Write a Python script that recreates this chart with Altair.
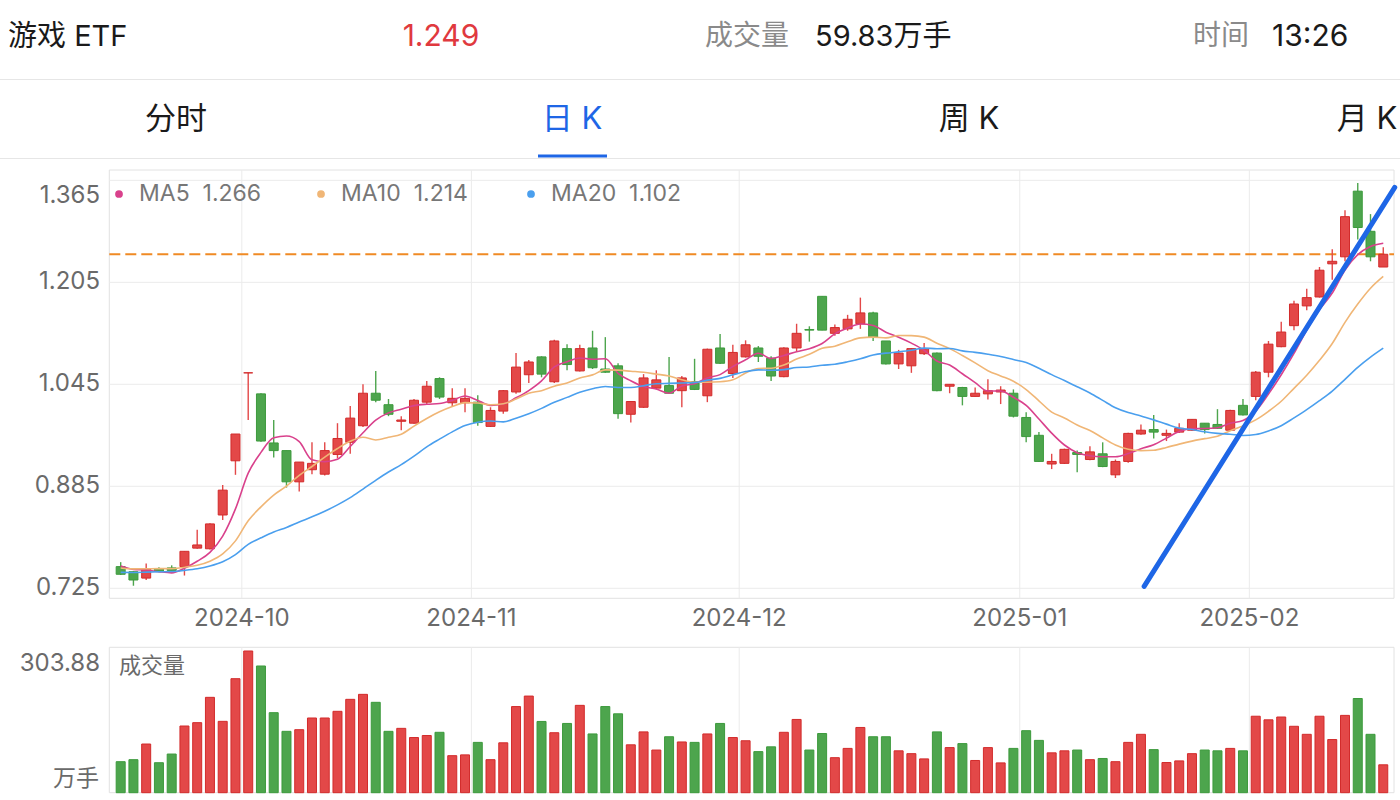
import altair as alt
import pandas as pd
import numpy as np

# ---------------- data ----------------
opens = [0.759, 0.751, 0.741, 0.756, 0.757, 0.759, 0.788, 0.787, 0.840, 0.925,
         1.063, 1.030, 0.953, 0.941, 0.892, 0.911, 0.904, 0.935, 0.954, 0.980,
         1.031, 1.013, 0.987, 0.984, 1.017, 1.054, 1.016, 1.016, 1.017, 0.979,
         1.003, 1.033, 1.060, 1.088, 1.049, 1.101, 1.066, 1.102, 1.069, 1.074,
         0.998, 1.009, 1.039, 1.043, 1.035, 1.049, 1.027, 1.102, 1.062, 1.088,
         1.102, 1.086, 1.057, 1.102, 1.131, 1.183, 1.125, 1.132, 1.140, 1.157,
         1.113, 1.077, 1.074, 1.093, 1.094, 1.042, 1.040, 1.026, 1.030, 1.033,
         1.031, 0.993, 0.965, 0.920, 0.921, 0.938, 0.927, 0.936, 0.903, 0.924,
         0.967, 0.974, 0.965, 0.970, 0.973, 0.984, 0.982, 0.973, 1.012, 1.026,
         1.064, 1.104, 1.137, 1.168, 1.182, 1.234, 1.245, 1.348, 1.285, 1.229]
highs = [0.766, 0.752, 0.764, 0.758, 0.761, 0.783, 0.817, 0.827, 0.887, 0.967,
         1.063, 1.031, 0.989, 0.941, 0.923, 0.954, 0.954, 0.984, 1.011, 1.045,
         1.066, 1.022, 0.995, 1.022, 1.050, 1.056, 1.039, 1.039, 1.028, 1.009,
         1.036, 1.094, 1.083, 1.089, 1.115, 1.108, 1.107, 1.129, 1.119, 1.078,
         1.019, 1.061, 1.067, 1.088, 1.058, 1.085, 1.101, 1.124, 1.107, 1.114,
         1.105, 1.089, 1.103, 1.140, 1.136, 1.183, 1.139, 1.154, 1.181, 1.159,
         1.113, 1.099, 1.102, 1.110, 1.095, 1.045, 1.041, 1.040, 1.053, 1.042,
         1.037, 1.001, 0.970, 0.936, 0.944, 0.941, 0.948, 0.954, 0.927, 0.969,
         0.982, 0.997, 0.974, 0.984, 0.990, 0.984, 1.006, 1.005, 1.022, 1.066,
         1.113, 1.143, 1.176, 1.195, 1.229, 1.257, 1.318, 1.361, 1.312, 1.260]
lows = [0.746, 0.729, 0.738, 0.750, 0.752, 0.745, 0.787, 0.786, 0.832, 0.903,
        0.989, 0.955, 0.930, 0.883, 0.877, 0.904, 0.902, 0.929, 0.936, 0.978,
        1.017, 0.995, 0.973, 0.983, 1.013, 1.022, 1.011, 1.001, 0.980, 0.978,
        0.999, 1.030, 1.047, 1.056, 1.047, 1.067, 1.065, 1.069, 1.063, 0.991,
        0.985, 1.008, 1.037, 1.030, 1.009, 1.036, 1.017, 1.077, 1.055, 1.087,
        1.080, 1.050, 1.056, 1.096, 1.112, 1.130, 1.121, 1.129, 1.132, 1.113,
        1.076, 1.069, 1.063, 1.091, 1.034, 1.031, 1.012, 1.026, 1.021, 1.014,
        0.993, 0.954, 0.923, 0.912, 0.920, 0.907, 0.926, 0.915, 0.898, 0.922,
        0.966, 0.960, 0.956, 0.969, 0.972, 0.968, 0.975, 0.972, 0.996, 1.020,
        1.056, 1.103, 1.130, 1.161, 1.181, 1.209, 1.238, 1.272, 1.238, 1.229]
closes = [0.747, 0.738, 0.756, 0.752, 0.753, 0.783, 0.793, 0.826, 0.879, 0.967,
          1.063, 0.956, 0.941, 0.892, 0.923, 0.921, 0.941, 0.960, 0.992, 1.031,
          1.020, 0.998, 0.989, 1.020, 1.042, 1.025, 1.023, 1.023, 0.985, 1.004,
          1.035, 1.072, 1.080, 1.061, 1.113, 1.076, 1.101, 1.071, 1.064, 0.999,
          1.018, 1.055, 1.052, 1.031, 1.055, 1.037, 1.100, 1.078, 1.095, 1.107,
          1.089, 1.058, 1.102, 1.125, 1.130, 1.130, 1.134, 1.147, 1.157, 1.119,
          1.077, 1.094, 1.101, 1.101, 1.035, 1.045, 1.026, 1.031, 1.035, 1.036,
          0.995, 0.963, 0.924, 0.924, 0.943, 0.935, 0.939, 0.916, 0.924, 0.968,
          0.973, 0.970, 0.968, 0.976, 0.990, 0.974, 0.976, 1.004, 0.997, 1.064,
          1.108, 1.127, 1.171, 1.181, 1.224, 1.238, 1.308, 1.291, 1.245, 1.249]
volumes = [66.5, 70.8, 104.4, 64.3, 82.9, 143.0, 150.2, 204.5, 153.0, 244.5,
           303.88, 271.7, 171.6, 131.6, 135.1, 160.2, 160.2, 174.5, 200.2, 210.9,
           193.8, 131.6, 138.0, 118.3, 122.6, 129.5, 79.4, 81.1, 107.9, 70.8,
           107.0, 184.7, 207.2, 152.8, 128.6, 148.5, 187.3, 126.0, 184.7, 169.2,
           102.7, 130.4, 91.5, 120.0, 108.8, 107.9, 126.0, 148.5, 118.3, 111.4,
           88.1, 98.4, 129.5, 157.1, 91.5, 126.9, 75.1, 95.0, 139.9, 120.0,
           120.0, 89.8, 83.7, 72.5, 130.4, 96.7, 105.3, 69.1, 96.7, 63.9,
           95.0, 133.0, 112.2, 85.5, 89.8, 91.5, 70.8, 73.4, 66.5, 107.9,
           125.2, 92.4, 64.7, 68.2, 83.7, 91.5, 89.8, 95.0, 89.8, 164.0,
           156.3, 162.3, 142.4, 125.2, 164.0, 114.0, 165.8, 202.0, 125.2, 59.83]
# closes before the visible window (estimated so the MA lines start where drawn)
prior_closes = [0.742, 0.745, 0.740, 0.744, 0.748, 0.743, 0.741, 0.745, 0.742, 0.740,
                0.752, 0.755, 0.750, 0.753, 0.760, 0.764, 0.761, 0.765, 0.762]

price_ticks = [0.725, 0.885, 1.045, 1.205, 1.365]
month_labels = ["2024-10", "2024-11", "2024-12", "2025-01", "2025-02"]
month_start_idx = [10, 28, 49, 71, 89]
ma_periods = [5, 10, 20]
ma_names = ["MA5", "MA10", "MA20"]
trend_x = [80.25, 99.9]
trend_y = [0.728, 1.354]

title_text = "游戏 ETF"
time_text = "13:26"
tabs = ["分时", "日 K", "周 K", "月 K"]

# ---------------- styling ----------------
FONT = "Inter, 'Noto Sans CJK SC', sans-serif"
CJK = "'Noto Sans CJK SC', Inter, sans-serif"
RED, GREEN = "#E34848", "#4DA54D"
RED_S, GREEN_S = "#D22B2B", "#3C9A3C"
MA_COLORS = ["#D9418C", "#F0B676", "#4A9FEE"]
GRID = "#EBEBEB"
FRAME = "#E2E2E2"
LABEL = "#6A6A6A"
BLUE = "#1E66E6"
AX = 24

PL, PR = 109.3, 1394.0
MT, MB = 170.0, 598.3
VT, VB = 647.3, 792.7

# ---------------- frames ----------------
n = len(closes)
df = pd.DataFrame({"i": np.arange(n), "open": opens, "high": highs,
                   "low": lows, "close": closes, "vol": volumes})
df["dir"] = np.where(df["close"] >= df["open"], "up", "down")
full = pd.Series(prior_closes + closes)
for p, name in zip(ma_periods, ma_names):
    df[name] = full.rolling(p).mean().iloc[len(prior_closes):].values

last_close = closes[-1]
one = pd.DataFrame({"a": [0]})

xs = alt.Scale(domain=[-0.5, 99.45], range=[PL, PR], nice=False, zero=False)
ps = alt.Scale(domain=[0.7093, 1.3812], range=[MB, MT], nice=False, zero=False)
vs = alt.Scale(domain=[0, 311.8], range=[VB, VT], nice=False, zero=True)
col = alt.Color("dir:N", scale=alt.Scale(domain=["up", "down"], range=[RED, GREEN]), legend=None)
scol = alt.Stroke("dir:N", scale=alt.Scale(domain=["up", "down"], range=[RED_S, GREEN_S]), legend=None)

X = lambda f: alt.X(f, scale=xs, axis=None)
Y = lambda f: alt.Y(f, scale=ps, axis=None)
YV = lambda f: alt.Y(f, scale=vs, axis=None)

ticks_df = pd.DataFrame({"v": price_ticks, "lab": [f"{v:.3f}" for v in price_ticks]})
months_df = pd.DataFrame({"m": [k - 0.5 for k in month_start_idx], "lab": month_labels})

# ---------------- main panel ----------------
frame_main = alt.Chart(one).mark_rect(fill="white", stroke=FRAME, strokeWidth=1).encode(
    x=alt.value(PL), x2=alt.value(PR), y=alt.value(MT), y2=alt.value(MB))
hgrid = alt.Chart(ticks_df).mark_rule(color=GRID, strokeWidth=1).encode(
    y=Y("v:Q"), x=alt.value(PL), x2=alt.value(PR))
vgrid = alt.Chart(months_df).mark_rule(color=GRID, strokeWidth=1).encode(
    x=X("m:Q"), y=alt.value(MT), y2=alt.value(MB))
dashed = alt.Chart(pd.DataFrame({"v": [last_close]})).mark_rule(
    color="#F08A24", strokeWidth=2, strokeDash=[11, 5]).encode(
    y=Y("v:Q"), x=alt.value(PL), x2=alt.value(PR))
wicks = alt.Chart(df).mark_rule(strokeWidth=1.4).encode(
    x=X("i:Q"), y=Y("low:Q"), y2="high:Q", color=col)
bodies = alt.Chart(df).mark_bar(size=9, strokeWidth=1).encode(
    x=X("i:Q"), y=Y("open:Q"), y2="close:Q", color=col, stroke=scol)
ma_layers = []
for name, c in zip(ma_names, MA_COLORS):
    ma_layers.append(alt.Chart(df).mark_line(color=c, strokeWidth=1.6, interpolate="monotone").encode(
        x=X("i:Q"), y=Y(f"{name}:Q")))
trend = alt.Chart(pd.DataFrame({"tx": trend_x, "ty": trend_y})).mark_line(
    color=BLUE, strokeWidth=5, strokeCap="round", clip=False).encode(x=X("tx:Q"), y=Y("ty:Q"))

ylab = alt.Chart(ticks_df[ticks_df.v < max(price_ticks)]).mark_text(
    align="right", baseline="middle", font=FONT, fontSize=AX, color=LABEL).encode(
    y=Y("v:Q"), x=alt.value(100), text="lab:N")
ylab_top = alt.Chart(ticks_df[ticks_df.v == max(price_ticks)]).mark_text(
    align="right", baseline="middle", font=FONT, fontSize=AX, color=LABEL, dy=16).encode(
    y=Y("v:Q"), x=alt.value(100), text="lab:N")
xlab = alt.Chart(months_df).mark_text(
    align="center", baseline="middle", font=FONT, fontSize=AX, color=LABEL).encode(
    x=X("m:Q"), y=alt.value(619), text="lab:N")

legend_layers = []
dot_x = [119, 321, 531]
for name, c, dx in zip(ma_names, MA_COLORS, dot_x):
    val = df[name].iloc[-1]
    ld = pd.DataFrame({"t": [f"{name}\u00a0\u00a0{val:.3f}"]})
    legend_layers.append(alt.Chart(ld).mark_point(filled=True, size=60, color=c, opacity=1).encode(
        x=alt.value(dx), y=alt.value(194)))
    legend_layers.append(alt.Chart(ld).mark_text(
        align="left", baseline="middle", font=FONT, fontSize=23, color="#777777").encode(
        x=alt.value(dx + 20), y=alt.value(194), text="t:N"))

main = alt.layer(frame_main, hgrid, vgrid, dashed, wicks, bodies, *ma_layers, trend,
                 ylab, ylab_top, xlab, *legend_layers)

# ---------------- volume panel ----------------
frame_vol = alt.Chart(one).mark_rect(fill="white", stroke=FRAME, strokeWidth=1).encode(
    x=alt.value(PL), x2=alt.value(PR), y=alt.value(VT), y2=alt.value(VB))
vgrid_v = alt.Chart(months_df).mark_rule(color=GRID, strokeWidth=1).encode(
    x=X("m:Q"), y=alt.value(VT), y2=alt.value(VB))
vbars = alt.Chart(df).mark_bar(size=9, strokeWidth=1).encode(
    x=X("i:Q"), y=YV("vol:Q"), y2=alt.datum(0), color=col, stroke=scol)
vmax = pd.DataFrame({"v": [max(volumes)], "lab": [f"{max(volumes):.2f}"]})
vmax_lab = alt.Chart(vmax).mark_text(align="right", baseline="middle", font=FONT,
                                     fontSize=AX, color=LABEL, dy=13).encode(
    y=YV("v:Q"), x=alt.value(100), text="lab:N")
vunit = alt.Chart(pd.DataFrame({"t": ["万手"]})).mark_text(
    align="right", baseline="middle", font=CJK, fontSize=23, color=LABEL).encode(
    x=alt.value(99), y=alt.value(779), text="t:N")
vname = alt.Chart(pd.DataFrame({"t": ["成交量"]})).mark_text(
    align="left", baseline="middle", font=CJK, fontSize=22, color=LABEL).encode(
    x=alt.value(119), y=alt.value(666), text="t:N")

vol = alt.layer(frame_vol, vgrid_v, vbars, vmax_lab, vunit, vname)

# ---------------- header ----------------
def txt(t, x, y, size, color, align="left", font=FONT):
    return alt.Chart(pd.DataFrame({"t": [t]})).mark_text(
        align=align, baseline="middle", font=font, fontSize=size, color=color).encode(
        x=alt.value(x), y=alt.value(y), text="t:N")

header = [
    txt(title_text, 8, 37, 29, "#1A1A1A"),
    txt(f"{last_close:.3f}", 441, 37, 30, "#E0393E", align="center"),
    txt("成交量", 705, 37, 28, "#8A8A8A", font=CJK),
    txt(f"{volumes[-1]:.2f}万手", 815, 37, 29, "#1A1A1A"),
    txt("时间", 1193, 37, 28, "#8A8A8A", font=CJK),
    txt(time_text, 1272, 37, 30, "#1A1A1A"),
    txt(tabs[0], 176, 120, 31, "#1A1A1A", align="center"),
    txt(tabs[1], 572, 120, 31, BLUE, align="center"),
    txt(tabs[2], 969, 120, 31, "#1A1A1A", align="center"),
    txt(tabs[3], 1367, 120, 31, "#1A1A1A", align="center"),
    alt.Chart(one).mark_rule(color="#E6E6E6", strokeWidth=1).encode(
        x=alt.value(0), x2=alt.value(1400), y=alt.value(79.5)),
    alt.Chart(one).mark_rule(color="#E6E6E6", strokeWidth=1).encode(
        x=alt.value(0), x2=alt.value(1400), y=alt.value(158.5)),
    alt.Chart(one).mark_rect(color=BLUE).encode(
        x=alt.value(538), x2=alt.value(607), y=alt.value(154.5), y2=alt.value(157.5)),
]

chart = alt.layer(main, vol, *header).resolve_scale(y="independent").properties(
    width=1400, height=800, autosize=alt.AutoSizeParams(type="none"), padding=0,
    background="white"
).configure_view(stroke=None)

chart.save("out.html", embed_options={"renderer": "svg", "actions": False})
